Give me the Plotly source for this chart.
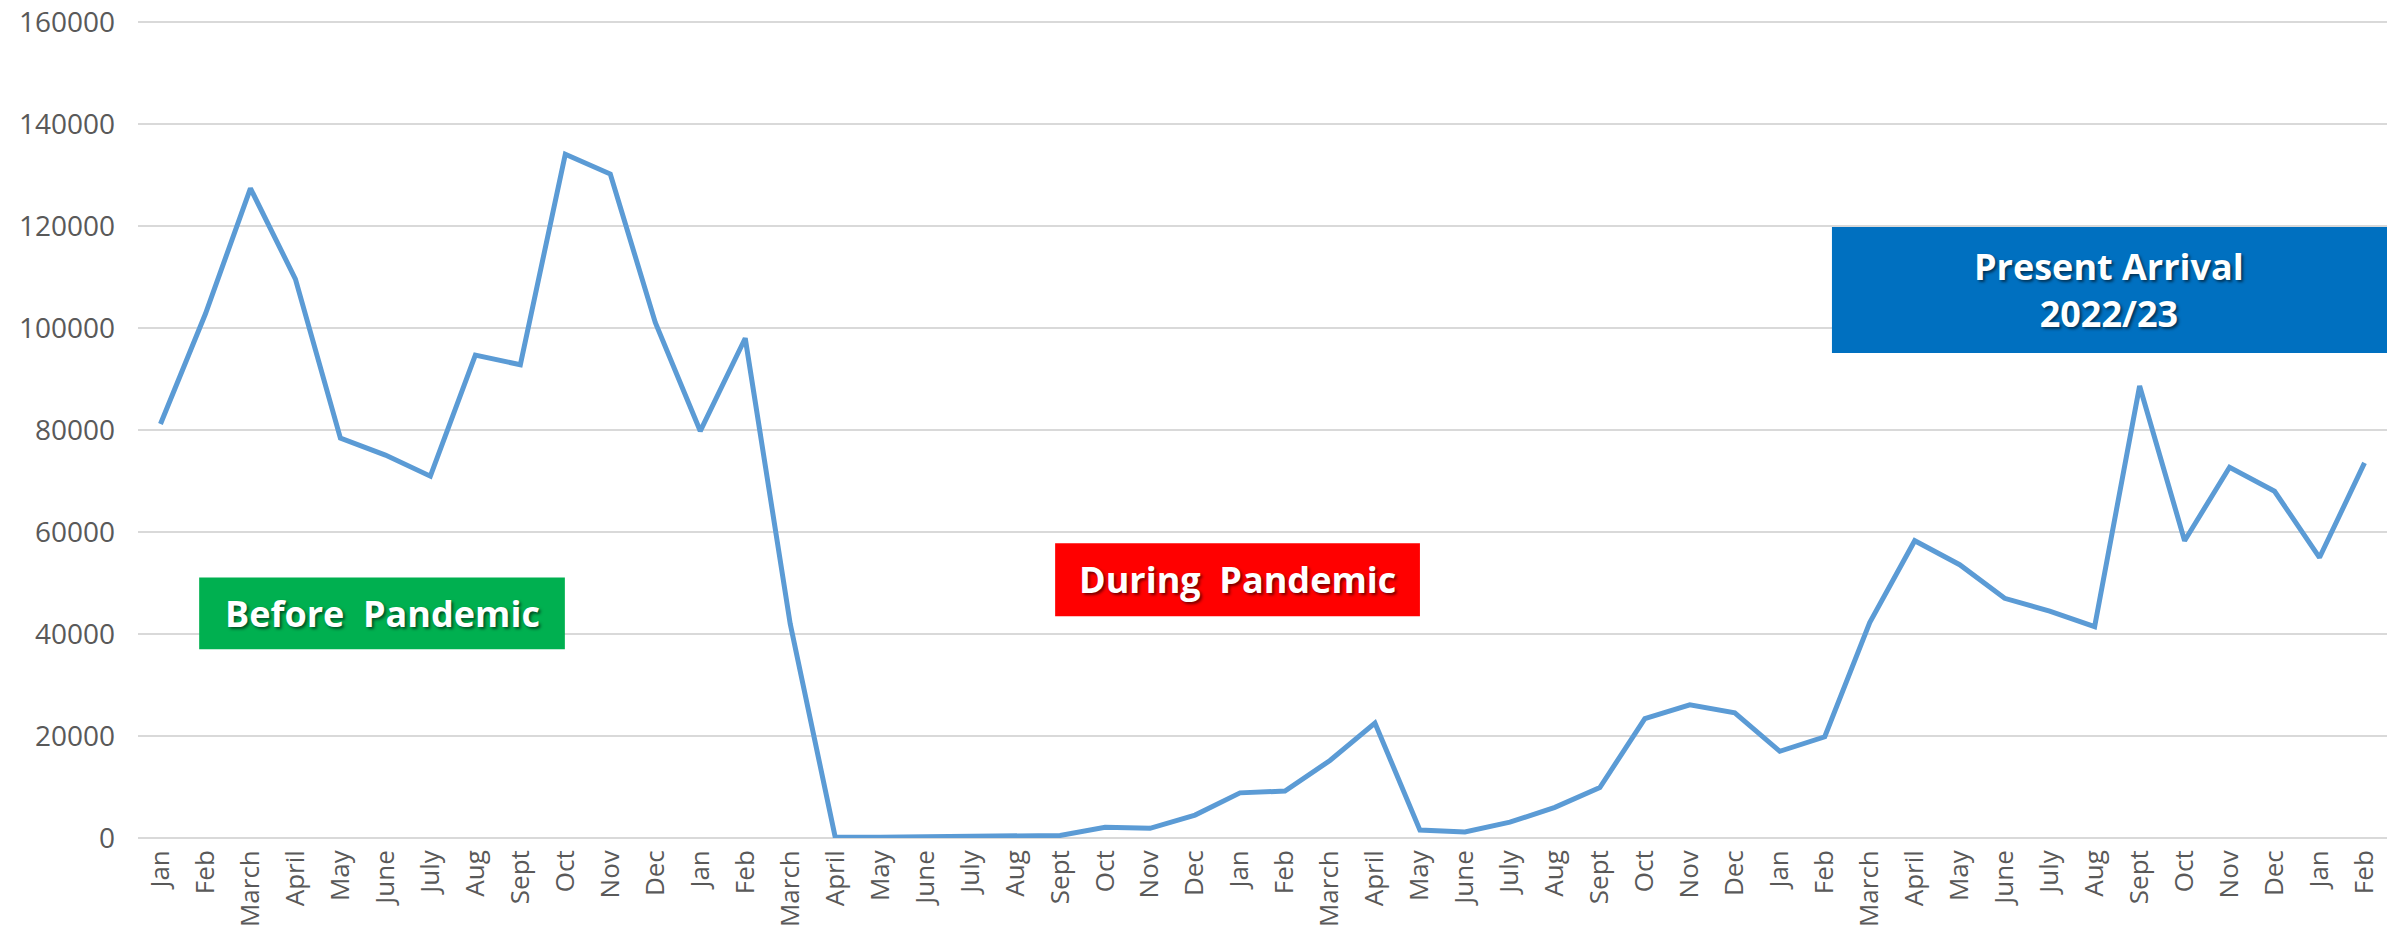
import plotly.graph_objects as go

months = ["Jan", "Feb", "March", "April", "May", "June", "July", "Aug", "Sept", "Oct", "Nov", "Dec",
          "Jan", "Feb", "March", "April", "May", "June", "July", "Aug", "Sept", "Oct", "Nov", "Dec",
          "Jan", "Feb", "March", "April", "May", "June", "July", "Aug", "Sept", "Oct", "Nov", "Dec",
          "Jan", "Feb", "March", "April", "May", "June", "July", "Aug", "Sept", "Oct", "Nov", "Dec",
          "Jan", "Feb"]

arrivals = [81200, 102800, 127400, 109600, 78400, 75100, 70950, 94700, 92800, 134100, 130200, 101100,
            79800, 98000, 42000, 200, 150, 250, 250, 350, 500, 2100, 1900, 4500,
            8850, 9200, 15200, 22550, 1550, 1200, 3100, 6000, 9900, 23400, 26100, 24550,
            17000, 19850, 42250, 58300, 53600, 47000, 44500, 41450, 88650, 58300, 72700, 68000,
            55000, 73550]

idx = list(range(len(months)))

# annotation boxes: (label, x0, x1, y0, y1, color)
boxes = [
    ("Before\u00a0\u00a0Pandemic", 0.86, 8.99, 37000, 51100, "#00B050"),
    ("During\u00a0\u00a0Pandemic", 19.89, 28.0, 43500, 57800, "#FF0000"),
    ("Present Arrival<br>2022/23", 37.16, 49.5, 95100, 119800, "#0070C0"),
]

fig = go.Figure()
fig.add_trace(go.Scatter(x=idx, y=arrivals, mode="lines",
                         line=dict(color="#5B9BD5", width=5), showlegend=False))

for label, x0, x1, y0, y1, col in boxes:
    fig.add_shape(type="rect", xref="x", yref="y", x0=x0, x1=x1, y0=y0, y1=y1,
                  fillcolor=col, line=dict(width=0), layer="above")
    fig.add_annotation(x=(x0 + x1) / 2, y=(y0 + y1) / 2, xref="x", yref="y",
                       text=label, showarrow=False,
                       font=dict(family="Open Sans", size=36, color="white", weight="bold",
                                 shadow="2px 2px 3px rgba(0,0,0,0.55)"))

fig.update_layout(
    width=2379, height=928,
    margin=dict(l=130, r=0, t=9, b=98),
    paper_bgcolor="white", plot_bgcolor="white",
    font=dict(family="Open Sans", color="#595959", size=28),
    xaxis=dict(range=[-0.5, 49.5], tickmode="array", tickvals=idx, ticktext=months,
               tickangle=-90, showgrid=False, zeroline=False, showline=False,
               ticks="", tickfont=dict(size=26), ticklabelstandoff=6, automargin=False),
    yaxis=dict(range=[0, 161000], tickmode="linear", tick0=0, dtick=20000, tickformat="d",
               gridcolor="#D9D9D9", gridwidth=2, zeroline=True, zerolinecolor="#D9D9D9",
               zerolinewidth=2, showline=False, ticks="", ticklabelstandoff=22,
               ticklabeloverflow="allow", tickfont=dict(size=28), automargin=False),
)

fig.write_html("out.html")
